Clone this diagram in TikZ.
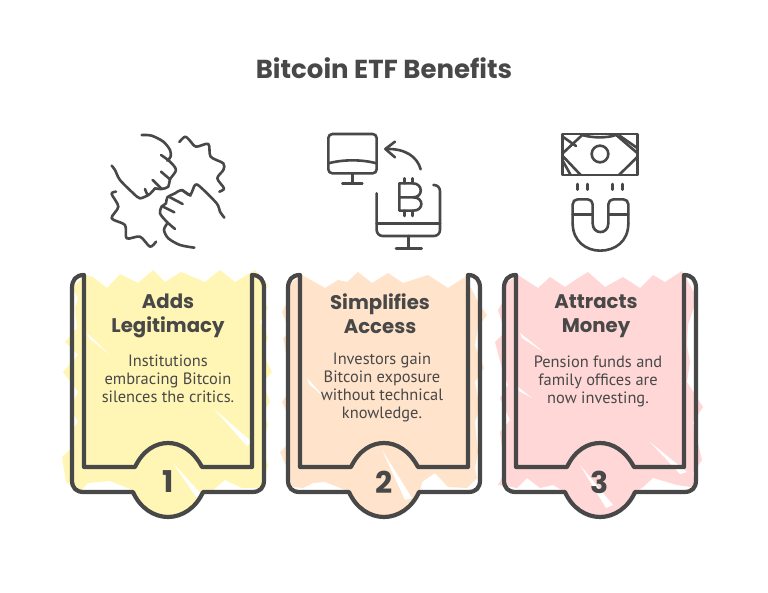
\documentclass[tikz,border=0pt]{standalone}
\usepackage{fontspec}
\setmainfont{PT Sans}
\newfontfamily\headfont{Poppins}
\definecolor{inkgray}{HTML}{484848}
\definecolor{cardyellow}{HTML}{FFF6B5}
\definecolor{cardorange}{HTML}{FFE3CB}
\definecolor{cardpink}{HTML}{FFD7D7}
\tikzset{
  framestroke/.style={draw=inkgray,line width=4.2pt,line cap=round,line join=round},
  iconstroke/.style={draw=inkgray,line width=2.6pt,line cap=round,line join=round},
  slash/.style={fill=white,draw=none},
  charttitle/.style={text=inkgray,font=\headfont\bfseries\fontsize{26}{30}\selectfont},
  cardtitle/.style={text=inkgray,align=center,font=\headfont\bfseries\fontsize{19.7}{24.5}\selectfont},
  cardtext/.style={text=inkgray,align=center,font=\fontsize{16.4}{18}\selectfont},
  cardnum/.style={text=inkgray,font=\headfont\bfseries\fontsize{30}{30}\selectfont},
}
% card outline, #1 is the centre of the badge
\newcommand{\cardframe}[1]{
  \begin{scope}[shift={(#1,0)}]
    \draw[framestroke] (-84,275) .. controls (-92,275) and (-96,280) .. (-96,288) -- (-96,480)
      .. controls (-96,488) and (-92,492) .. (-84,492) -- (-35,492)
      .. controls (-28,508) and (-14,517) .. (0,517) .. controls (14,517) and (28,508) .. (35,492)
      -- (84,492) .. controls (92,492) and (96,488) .. (96,480) -- (96,288)
      .. controls (96,280) and (92,275) .. (84,275) -- (84,467) -- (34,467)
      .. controls (25,450) and (12,443) .. (0,443) .. controls (-12,443) and (-25,450) .. (-33,467)
      -- (-84,467) -- cycle;
  \end{scope}
}
\begin{document}
\begin{tikzpicture}[x=1pt,y=-1pt]
\useasboundingbox (0,0) rectangle (768,593);

\node[charttitle] (title) at (384,68) {Bitcoin ETF Benefits};

% hands
\begin{scope}[shift={(80,120)},scale=1/3]
  \draw[iconstroke] plot[smooth,tension=0.5] coordinates {(185,45) (215,47) (250,65) (270,90) (272,110) (262,122)};
  \draw[iconstroke] plot[smooth,tension=0.5] coordinates {(243,105) (270,125) (288,150) (270,178) (265,200) (245,207) (225,205)};
  \draw[iconstroke] plot[smooth,tension=0.5] coordinates {(270,178) (243,155)};
  \draw[iconstroke] plot[smooth,tension=0.5] coordinates {(245,207) (218,180)};
  \draw[iconstroke] plot[smooth,tension=0.5] coordinates {(225,205) (205,225) (195,207)};
  \draw[iconstroke] plot[smooth,tension=0.5] coordinates {(205,225) (180,235) (160,220) (120,180) (105,150) (95,137)};
  \draw[iconstroke] plot[smooth,tension=0.5] coordinates {(343,383) (300,375) (265,355) (252,330) (262,310)};
  \draw[iconstroke] plot[smooth,tension=0.5] coordinates {(285,327) (260,305) (240,280) (245,260) (258,250) (262,232) (285,220) (305,210) (330,225) (345,195) (360,200) (410,250) (420,275) (433,293)};
  \draw[iconstroke] (245,258) -- (283,277);
  \draw[iconstroke] (270,232) -- (308,252);
  \draw[iconstroke] (305,210) -- (332,227);
  \draw[iconstroke] plot[smooth,tension=0.5] coordinates {(298,66) (315,50) (328,60) (348,80) (385,72) (392,110) (430,130) (430,150) (412,175) (432,205) (418,215)};
  \draw[iconstroke] plot[smooth,tension=0.5] coordinates {(108,215) (95,222) (115,260) (95,295) (135,315) (140,355) (180,350) (210,380) (228,365)};
\end{scope}

% monitors
\begin{scope}[shift={(310,120)},scale=1/3]
  \draw[iconstroke,rounded corners=4pt] (55,42) rectangle (200,160);
  \draw[iconstroke] (55,130) .. controls (100,118) and (155,118) .. (200,130);
  \draw[iconstroke] (127,160) -- (127,190);
  \draw[iconstroke] (97,190) -- (157,190);
  \draw[iconstroke] (332,148) .. controls (322,110) and (285,85) .. (228,87);
  \draw[iconstroke] (255,65) -- (226,87) -- (255,112);
  \draw[iconstroke,rounded corners=6pt] (200,220) -- (200,348) -- (390,348) -- (390,195) -- (370,195);
  \draw[iconstroke] (200,310) -- (390,310);
  \draw[iconstroke] (295,348) -- (295,385);
  \draw[iconstroke] (258,385) -- (335,385);
  \draw[iconstroke] (268,190) -- (268,272) -- (310,272) .. controls (342,272) and (342,232) .. (310,232) -- (268,232);
  \draw[iconstroke] (268,190) -- (308,190) .. controls (340,190) and (340,232) .. (310,232);
  \foreach \tickx in {283,308} {
    \draw[iconstroke] (\tickx,175) -- (\tickx,190);
    \draw[iconstroke] (\tickx,272) -- (\tickx,288);
  }
\end{scope}

% banknote and magnet
\begin{scope}[shift={(540,120)},scale=1/3]
  \draw[iconstroke] (68,42) rectangle (293,165);
  \draw[iconstroke] (180,102) circle (25);
  \draw[iconstroke] (68,100) -- (130,42);
  \draw[iconstroke] (68,108) -- (122,165);
  \draw[iconstroke] (225,42) -- (293,100);
  \draw[iconstroke] (293,110) -- (237,165);
  \draw[iconstroke] (68,50) -- (108,78);
  \draw[iconstroke] (68,122) -- (92,165);
  \draw[iconstroke] (240,48) -- (293,85);
  \draw[iconstroke] (130,46) .. controls (160,54) and (200,54) .. (225,46);
  \foreach \tickx in {112,142,217,247} {
    \draw[iconstroke] (\tickx,192) -- (\tickx,209);
  }
  \draw[iconstroke,rounded corners=5pt] (158,310) -- (158,238) -- (98,238) -- (98,310);
  \draw[iconstroke] (98,310) .. controls (98,365) and (140,392) .. (180,392) .. controls (225,392) and (265,365) .. (265,310);
  \draw[iconstroke,rounded corners=5pt] (265,310) -- (265,238) -- (205,238) -- (205,310);
  \draw[iconstroke] (158,310) .. controls (158,345) and (205,345) .. (205,310);
  \draw[iconstroke] (98,283) -- (158,283);
  \draw[iconstroke] (205,283) -- (265,283);
\end{scope}

% card fills
\fill[cardyellow] (168,480) circle (37);
\fill[cardyellow] (85,275) -- (93,277) -- (107,288) -- (120,274) -- (138,283) -- (153,270) -- (165,282) -- (181,272)
  -- (205,282) -- (220,270) -- (235,282) -- (255,270) -- (268,285) -- (262,298) -- (268,308) -- (260,322) -- (268,338)
  -- (262,352) -- (272,372) -- (263,382) -- (270,402) -- (263,412) -- (268,425) -- (262,445) -- (268,465) -- (262,488)
  -- (242,488) -- (225,480) -- (212,491) -- (135,491) -- (110,481) -- (88,483) -- (80,492) -- (66,482) -- (62,457)
  -- (75,445) -- (70,432) -- (78,422) -- (70,408) -- (78,392) -- (63,372) -- (78,355) -- (65,342) -- (77,328) -- (75,308)
  -- (78,298) -- (72,288) -- cycle;
\fill[slash] (87,333) -- (110,355) -- (89,338) -- cycle;
\fill[slash] (213,408) -- (252,442) -- (247,446) -- cycle;
\fill[slash] (173,463) -- (202,495) -- (196,497) -- cycle;

\fill[cardorange] (384,480) circle (37);
\fill[cardorange] (302,275) -- (325,288) -- (338,280) -- (347,282) -- (358,272) -- (372,283) -- (388,273) -- (403,283)
  -- (428,275) -- (448,288) -- (468,275) -- (468,282) -- (478,302) -- (487,315) -- (478,327) -- (475,345) -- (484,368)
  -- (475,382) -- (480,408) -- (475,422) -- (478,452) -- (475,468) -- (477,478) -- (467,488) -- (448,487) -- (435,473)
  -- (422,482) -- (420,491) -- (348,491) -- (325,482) -- (313,483) -- (303,488) -- (292,487) -- (287,468) -- (280,452)
  -- (290,442) -- (288,415) -- (282,402) -- (290,390) -- (288,365) -- (283,338) -- (290,332) -- (282,312) -- (288,300)
  -- (288,285) -- cycle;
\fill[slash] (307,378) -- (325,398) -- (309,384) -- cycle;
\fill[slash] (382,450) -- (412,498) -- (405,500) -- cycle;

\fill[cardpink] (600,480) circle (37);
\fill[cardpink] (518,275) -- (538,288) -- (550,277) -- (565,287) -- (575,280) -- (588,272) -- (605,287) -- (623,277)
  -- (640,288) -- (653,275) -- (665,282) -- (682,271) -- (690,285) -- (697,298) -- (688,325) -- (687,345) -- (690,362)
  -- (687,382) -- (703,407) -- (693,422) -- (702,460) -- (693,473) -- (697,488) -- (677,485) -- (653,478) -- (642,488)
  -- (634,492) -- (565,492) -- (553,485) -- (540,488) -- (527,478) -- (517,488) -- (498,485) -- (505,472) -- (500,432)
  -- (510,420) -- (500,398) -- (508,385) -- (503,372) -- (495,342) -- (505,332) -- (498,310) -- (505,298) -- (503,285) -- cycle;
\fill[slash] (520,333) -- (545,353) -- (522,338) -- cycle;
\fill[slash] (518,387) -- (532,398) -- (519,391) -- cycle;
\fill[slash] (650,442) -- (687,472) -- (680,474) -- cycle;
\fill[slash] (580,465) -- (613,505) -- (606,508) -- cycle;

\cardframe{168}
\cardframe{384}
\cardframe{600}

\node[cardtitle] (addsTitle) at (168,316) {Adds\\Legitimacy};
\node[cardtext] (addsText) at (168,379) {Institutions\\embracing Bitcoin\\silences the critics.};
\node[cardnum] (addsNum) at (168,482) {1};

\node[cardtitle] (accessTitle) at (380,313.5) {Simplifies\\Access};
\node[cardtext] (accessText) at (382,387) {Investors gain\\Bitcoin exposure\\without technical\\knowledge.};
\node[cardnum] (accessNum) at (384,482) {2};

\node[cardtitle] (moneyTitle) at (596,316) {Attracts\\Money};
\node[cardtext] (moneyText) at (598,381) {Pension funds and\\family offices are\\now investing.};
\node[cardnum] (moneyNum) at (600,482) {3};
\end{tikzpicture}
\end{document}
